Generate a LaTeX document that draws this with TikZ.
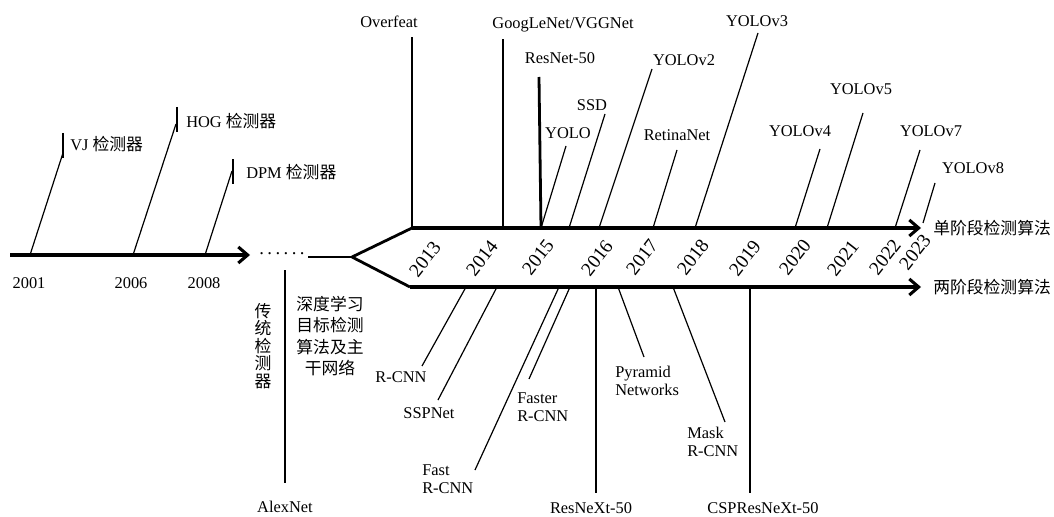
\documentclass[tikz,border=0pt]{standalone}
\usepackage{fontspec}
\setmainfont{Liberation Serif}
\newfontfamily\cjk{Noto Sans CJK SC}
\usetikzlibrary{arrows.meta}
\begin{document}
\begin{tikzpicture}[x=0.75pt,y=-0.75pt,
  thinln/.style={line width=0.9pt},
  thickln/.style={line width=2.1pt},
  axis/.style={line width=2.3pt,-{Straight Barb[length=7pt,width=12pt]}},
  lbl/.style={font=\fontsize{12.3}{13.5}\selectfont,inner sep=0pt,align=left},
  yr/.style={font=\fontsize{14.5}{15}\selectfont,inner sep=0pt,rotate=52},
  zh/.style={font=\cjk\fontsize{12.6}{16}\selectfont,inner sep=0pt}]
\useasboundingbox (0,0) rectangle (1054,517);

% ---------- traditional axis ----------
\coordinate (l0) at (10,255);
\coordinate (l1) at (250,255);
\draw[axis] (l0) -- (l1);
\node[font=\fontsize{14}{14}\selectfont,inner sep=0pt] (dots) at (282,254) {.\hspace{2.6pt}.\hspace{2.6pt}.\hspace{2.6pt}.\hspace{2.6pt}.\hspace{2.6pt}.};
\coordinate (m0) at (308,257);
\coordinate (br) at (352,257);
\draw[thickln] (m0) -- (br);

% ticks on traditional axis
\coordinate (a2001) at (30,255);
\coordinate (t2001) at (63,153);
\coordinate (b2001u) at (63,133);
\coordinate (b2001d) at (63,158);
\draw[thinln] (a2001) -- (t2001);
\draw[thinln] (b2001u) -- (b2001d);
\node[lbl,anchor=west] (vj) at (70,144) {VJ {\cjk\fontsize{12.6}{14}\selectfont 检测器}};

\coordinate (a2006) at (133,255);
\coordinate (t2006) at (176,124);
\coordinate (b2006u) at (177,107);
\coordinate (b2006d) at (177,132);
\draw[thinln] (a2006) -- (t2006);
\draw[thinln] (b2006u) -- (b2006d);
\node[lbl,anchor=west] (hog) at (186,121) {HOG {\cjk\fontsize{12.6}{14}\selectfont 检测器}};

\coordinate (a2008) at (205,255);
\coordinate (t2008) at (232,171);
\coordinate (b2008u) at (233,159);
\coordinate (b2008d) at (233,184);
\draw[thinln] (a2008) -- (t2008);
\draw[thinln] (b2008u) -- (b2008d);
\node[lbl,anchor=west] (dpm) at (246,172) {DPM {\cjk\fontsize{12.6}{14}\selectfont 检测器}};

\node[lbl] (y2001) at (29,283) {2001};
\node[lbl] (y2006) at (131,283) {2006};
\node[lbl] (y2008) at (204,283) {2008};

% AlexNet
\coordinate (alexT) at (285,270);
\coordinate (alexB) at (285,483);
\draw[thickln] (alexT) -- (alexB);
\node[lbl] (alex) at (285,507) {AlexNet};
\node[zh,align=center,font=\cjk\fontsize{12.6}{13.2}\selectfont] (trad) at (263,346) {传\\统\\检\\测\\器};
\node[zh,align=center,font=\cjk\fontsize{12.6}{16.1}\selectfont] (deep) at (330,336) {深度学习\\目标检测\\算法及主\\干网络};

% ---------- branches ----------
\coordinate (u0) at (412,228);
\coordinate (d0) at (410,287);
\coordinate (u1) at (921,228);
\coordinate (d1) at (921,287);
\draw[thickln] (br) -- (u0);
\draw[thickln] (br) -- (d0);
\draw[axis] (u0) -- (u1);
\draw[axis] (d0) -- (d1);
\node[zh,anchor=west] (one) at (933,228) {单阶段检测算法};
\node[zh,anchor=west] (two) at (933,287) {两阶段检测算法};

% years
\node[yr] (y13) at (425,259) {2013};
\node[yr] (y14) at (482,258) {2014};
\node[yr] (y15) at (538,257) {2015};
\node[yr] (y16) at (597,258) {2016};
\node[yr] (y17) at (642,257) {2017};
\node[yr] (y18) at (693,257) {2018};
\node[yr] (y19) at (745,258) {2019};
\node[yr] (y20) at (795,257) {2020};
\node[yr] (y21) at (843,258) {2021};
\node[yr] (y22) at (885,257) {2022};
\node[yr] (y23) at (915,252) {2023};

% ---------- upper (one-stage) ----------
\node[lbl] (overfeat) at (389,22) {Overfeat};
\coordinate (ovT) at (412,37);
\draw[thickln] (u0) -- (ovT);

\node[lbl] (goog) at (563,25) {GoogLeNet/VGGNet};
\coordinate (goA) at (503,228);
\coordinate (goT) at (503,39);
\draw[thickln] (goA) -- (goT);

\node[lbl] (resnet) at (560,58) {ResNet-50};
\coordinate (reA) at (541,228);
\coordinate (reT) at (539,77);
\draw[thickln] (reA) -- (reT);

\node[lbl] (yolo) at (568,133) {YOLO};
\coordinate (yoT) at (566,146);
\draw[thinln] (reA) -- (yoT);

\node[lbl] (ssd) at (592,105) {SSD};
\coordinate (ssA) at (569,228);
\coordinate (ssT) at (605,114);
\draw[thinln] (ssA) -- (ssT);

\node[lbl] (yolo2) at (684,60) {YOLOv2};
\coordinate (y2A) at (599,228);
\coordinate (y2T) at (652,69);
\draw[thinln] (y2A) -- (y2T);

\node[lbl] (retina) at (677,135) {RetinaNet};
\coordinate (rnA) at (653,228);
\coordinate (rnT) at (677,150);
\draw[thinln] (rnA) -- (rnT);

\node[lbl] (yolo3) at (757,21) {YOLOv3};
\coordinate (y3A) at (695,228);
\coordinate (y3T) at (758,33);
\draw[thinln] (y3A) -- (y3T);

\node[lbl] (yolo4) at (800,131) {YOLOv4};
\coordinate (y4A) at (795,228);
\coordinate (y4T) at (820,149);
\draw[thinln] (y4A) -- (y4T);

\node[lbl] (yolo5) at (861,89) {YOLOv5};
\coordinate (y5A) at (827,228);
\coordinate (y5T) at (863,113);
\draw[thinln] (y5A) -- (y5T);

\node[lbl] (yolo7) at (931,131) {YOLOv7};
\coordinate (y7A) at (895,228);
\coordinate (y7T) at (920,150);
\draw[thinln] (y7A) -- (y7T);

\node[lbl] (yolo8) at (973,168) {YOLOv8};
\coordinate (y8A) at (923,223);
\coordinate (y8T) at (935,183);
\draw[thinln] (y8A) -- (y8T);

% ---------- lower (two-stage) ----------
\node[lbl] (rcnn) at (401,377) {R-CNN};
\coordinate (rcA) at (466,287);
\coordinate (rcB) at (422,366);
\draw[thinln] (rcA) -- (rcB);

\node[lbl] (spp) at (429,413) {SSPNet};
\coordinate (spA) at (497,287);
\coordinate (spB) at (438,400);
\draw[thinln] (spA) -- (spB);

\node[lbl,anchor=north west] (fast) at (422,464) {Fast\\R-CNN};
\coordinate (faA) at (559,287);
\coordinate (faB) at (475,470);
\draw[thinln] (faA) -- (faB);

\node[lbl,anchor=north west] (faster) at (517,392) {Faster\\R-CNN};
\coordinate (frA) at (570,287);
\coordinate (frB) at (529,379);
\draw[thinln] (frA) -- (frB);

\node[lbl] (resnext) at (591,508) {ResNeXt-50};
\coordinate (rxA) at (596,287);
\coordinate (rxB) at (596,493);
\draw[thickln] (rxA) -- (rxB);

\node[lbl,anchor=north west] (fpn) at (615,366) {Pyramid\\Networks};
\coordinate (fpA) at (618,287);
\coordinate (fpB) at (644,357);
\draw[thinln] (fpA) -- (fpB);

\node[lbl,anchor=north west] (mask) at (687,427) {Mask\\R-CNN};
\coordinate (mkA) at (673,287);
\coordinate (mkB) at (725,422);
\draw[thinln] (mkA) -- (mkB);

\node[lbl] (csp) at (763,508) {CSPResNeXt-50};
\coordinate (csA) at (750,287);
\coordinate (csB) at (750,493);
\draw[thickln] (csA) -- (csB);
\end{tikzpicture}
\end{document}
